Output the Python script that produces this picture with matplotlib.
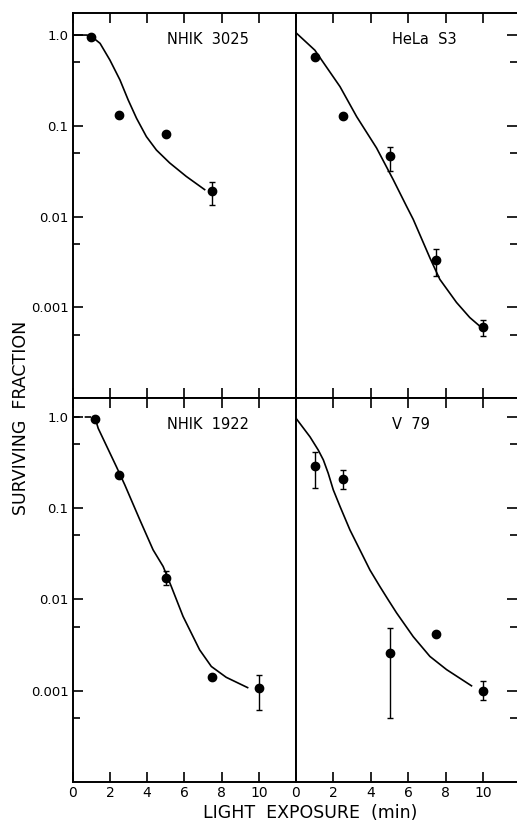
import numpy as np
import matplotlib
matplotlib.use("Agg")
import matplotlib.pyplot as plt

plt.rcParams['font.family'] = ['DejaVu Sans']

# NHIK 3025
x_3025 = [1.0, 2.5, 5.0, 7.5]
y_3025 = [0.95, 0.13, 0.082, 0.019]
lo_3025 = [np.nan, np.nan, np.nan, 0.0135]
hi_3025 = [np.nan, np.nan, np.nan, 0.024]
cx_3025 = [0.0, 0.75, 1.0, 1.47, 2.0, 2.54, 2.98, 3.43, 3.96, 4.5, 5.21, 6.1, 7.09]
cy_3025 = [1.0, 1.0, 0.97, 0.81, 0.53, 0.32, 0.193, 0.121, 0.076, 0.054, 0.039, 0.0277, 0.0198]

# HeLa S3
x_hela = [1.0, 2.5, 5.0, 7.5, 10.0]
y_hela = [0.57, 0.127, 0.046, 0.0033, 0.0006]
lo_hela = [np.nan, np.nan, 0.0316, 0.0022, 0.00048]
hi_hela = [np.nan, np.nan, 0.058, 0.0044, 0.00072]
cx_hela = [0.0, 1.01, 1.37, 2.35, 3.24, 4.3, 5.19, 5.9, 6.26, 7.15, 7.68, 8.57, 9.28, 9.81]
cy_hela = [1.06, 0.68, 0.53, 0.27, 0.126, 0.057, 0.0255, 0.013, 0.0093, 0.0035, 0.00203,
           0.00113, 0.00077, 0.00062]

# NHIK 1922
x_1922 = [1.2, 2.5, 5.0, 7.5, 10.0]
y_1922 = [0.94, 0.23, 0.0173, 0.0014, 0.00108]
lo_1922 = [np.nan, np.nan, 0.0144, np.nan, 0.00061]
hi_1922 = [np.nan, np.nan, 0.0205, np.nan, 0.0015]
cx_1922 = [1.25, 1.37, 2.36, 2.8, 3.61, 4.32, 4.86, 5.3, 5.93, 6.82, 7.45, 8.25, 9.4]
cy_1922 = [0.9, 0.745, 0.28, 0.179, 0.074, 0.0348, 0.0229, 0.0138, 0.0065, 0.0028, 0.00184, 0.0014, 0.00108]
sx_1922 = [0.0, 1.0]
sy_1922 = [1.0, 1.0]

# V 79
x_v79 = [1.0, 2.5, 5.0, 7.5, 10.0]
y_v79 = [0.29, 0.21, 0.0026, 0.0042, 0.001]
lo_v79 = [0.167, 0.162, 0.0005, np.nan, 0.0008]
hi_v79 = [0.41, 0.26, 0.0048, np.nan, 0.00126]
cx_v79 = [0.0, 0.75, 1.19, 1.46, 1.72, 1.99, 2.35, 2.88, 3.5, 3.95, 4.48, 4.92, 5.37,
          6.26, 7.15, 8.04, 9.37]
cy_v79 = [0.96, 0.60, 0.43, 0.336, 0.24, 0.158, 0.104, 0.0575, 0.032, 0.0209, 0.0138,
          0.0099, 0.0071, 0.0039, 0.00237, 0.0017, 0.00113]

y_major = [1e-3, 1e-2, 1e-1, 1.0]
y_labels = ["0.001", "0.01", "0.1", "1.0"]
y_minor = [5e-4, 5e-3, 5e-2, 0.5]
x_ticks = [0, 2, 4, 6, 8, 10]


def setup_panel(ax, side, bottom, ytop, xmax):
    ax.set_yscale('log')
    ax.set_xlim(0, xmax)
    ax.set_ylim(1e-4, ytop)
    ax.set_yticks(y_major)
    ax.set_yticks(y_minor, minor=True)
    ax.set_xticks(x_ticks)
    for s in ax.spines.values():
        s.set_linewidth(1.4)
    if side == 'left':
        ax.set_yticklabels(y_labels)
        ax.tick_params(axis='y', which='both', direction='in', left=True, right=False,
                       labelsize=9.5, pad=3, width=1.2)
    else:
        ax.spines['right'].set_visible(False)
        ax.set_yticklabels([])
        ax.tick_params(axis='y', which='both', direction='in', left=False, right=True,
                       labelleft=False, width=1.2)
    ax.tick_params(axis='y', which='major', length=7)
    ax.tick_params(axis='y', which='minor', length=5)
    ax.tick_params(axis='x', which='both', direction='in', top=True, bottom=True,
                   length=7, width=1.2, labelsize=10, pad=3, labelbottom=bottom)
    ax.xaxis.set_minor_locator(matplotlib.ticker.NullLocator())


def draw(ax, x, y, lo, hi, cx, cy, name, name_x):
    ax.plot(cx, cy, color='black', lw=1.2)
    y = np.array(y)
    err = np.vstack([y - np.array(lo), np.array(hi) - y])
    err = np.nan_to_num(err)
    ax.errorbar(x, y, yerr=err, fmt='o', color='black', ms=6, elinewidth=1,
                capsize=2.5, capthick=1)
    ax.text(name_x, 0.93, name, transform=ax.transAxes, ha='center', va='center',
            fontsize=10.5)


fig = plt.figure(figsize=(5.17, 8.30), dpi=100)
L, M, R = 72.7 / 517, 296 / 517, 1.0
T, C, B = 1 - 13 / 830, 1 - 398 / 830, 1 - 782 / 830

ax_tl = fig.add_axes([L, C, M - L, T - C])
ax_tr = fig.add_axes([M, C, R - M, T - C])
ax_bl = fig.add_axes([L, B, M - L, C - B])
ax_br = fig.add_axes([M, B, R - M, C - B])

setup_panel(ax_tl, 'left', False, 1.75, 12)
setup_panel(ax_tr, 'right', False, 1.75, 11.8)
setup_panel(ax_bl, 'left', True, 1.6, 12)
setup_panel(ax_br, 'right', True, 1.6, 11.8)

draw(ax_tl, x_3025, y_3025, lo_3025, hi_3025, cx_3025, cy_3025, "NHIK  3025", 0.605)
draw(ax_tr, x_hela, y_hela, lo_hela, hi_hela, cx_hela, cy_hela, "HeLa  S3", 0.58)
draw(ax_bl, x_1922, y_1922, lo_1922, hi_1922, cx_1922, cy_1922, "NHIK  1922", 0.605)
ax_bl.plot(sx_1922, sy_1922, color='black', lw=1.2, dashes=(4, 3))
draw(ax_br, x_v79, y_v79, lo_v79, hi_v79, cx_v79, cy_v79, "V  79", 0.52)

fig.text(0.04, 0.497, "SURVIVING  FRACTION", rotation=90, ha='center', va='center',
         fontsize=12.5)
fig.text(0.60, 0.01, "LIGHT  EXPOSURE  (min)", ha='center', va='bottom', fontsize=12.5)

fig.savefig("out.png", dpi=100)
